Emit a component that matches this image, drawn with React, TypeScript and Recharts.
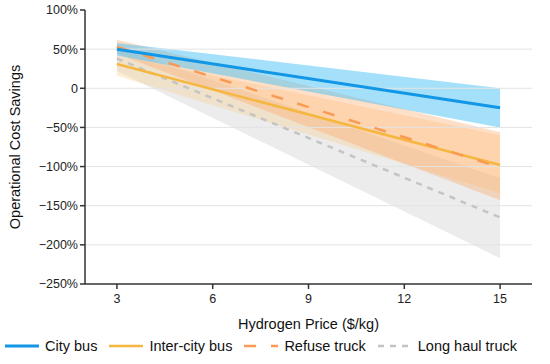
import React from "react";
import {
  ComposedChart, Line, Area, XAxis, YAxis, ReferenceLine,
} from "recharts";

// hydrogen price ($/kg) at the two ends of each fitted line
const hydrogenPrice = [3, 15];

const cityBus = [50, -25];
const cityBusLow = [42, -50];
const cityBusHigh = [58, 0];

const interCityBus = [31, -98];
const interCityBusLow = [16, -134];
const interCityBusHigh = [42, -60];

const refuseTruck = [53, -101];
const refuseTruckLow = [44, -143];
const refuseTruckHigh = [62, -56];

const longHaulTruck = [38, -165];
const longHaulTruckLow = [22, -217];
const longHaulTruckHigh = [52, -115];

const xTicks = [3, 6, 9, 12, 15];
const yTicks = [-250, -200, -150, -100, -50, 0, 50, 100];
const gridValues = [-200, -150, -100, -50, 0, 50];

const data = hydrogenPrice.map((x, i) => ({
  x,
  city: cityBus[i],
  cityBand: [cityBusLow[i], cityBusHigh[i]],
  inter: interCityBus[i],
  interBand: [interCityBusLow[i], interCityBusHigh[i]],
  refuse: refuseTruck[i],
  refuseBand: [refuseTruckLow[i], refuseTruckHigh[i]],
  haul: longHaulTruck[i],
  haulBand: [longHaulTruckLow[i], longHaulTruckHigh[i]],
}));

const legendItems = [
  { label: "City bus", color: "#1296e6", dash: undefined, width: 3 },
  { label: "Inter-city bus", color: "#f6b740", dash: undefined, width: 2.5 },
  { label: "Refuse truck", color: "#f99b55", dash: "12 15", width: 2.5 },
  { label: "Long haul truck", color: "#c4c4c4", dash: "6 6", width: 2.5 },
];

const font = "'Liberation Sans', Arial, sans-serif";

function fmt(v: number) {
  if (v === 0) return "0";
  return (v < 0 ? "\u2212" + Math.abs(v) : String(v)) + "%";
}

function LegendBox() {
  return (
    <div style={{ position: "absolute", left: 5, top: 338, display: "flex", alignItems: "center", fontFamily: font, fontSize: 14.5, color: "#111", whiteSpace: "nowrap" }}>
      {legendItems.map((it) => (
        <div key={it.label} style={{ display: "flex", alignItems: "center", marginRight: 12 }}>
          <svg width={34} height={10} style={{ marginRight: 6 }}>
            <line x1={0} y1={5} x2={34} y2={5} stroke={it.color} strokeWidth={it.width} strokeDasharray={it.dash} />
          </svg>
          <span>{it.label}</span>
        </div>
      ))}
    </div>
  );
}

export default function App() {
  return (
    <div style={{ position: "absolute", left: 0, top: 0, width: 550, height: 364, background: "#fff" }}>
      <ComposedChart width={550} height={364} data={data} margin={{ top: 10, right: 18, bottom: 30, left: 0 }}>
        {gridValues.map((v) => (
          <ReferenceLine key={v} y={v} stroke="#e3e3e3" strokeWidth={1} />
        ))}
        <XAxis
          type="number"
          dataKey="x"
          domain={[2, 16]}
          ticks={xTicks}
          height={50}
          tickSize={5}
          tickMargin={5}
          stroke="#333"
          strokeWidth={1.5}
          tick={{ fill: "#222", fontSize: 12.5, fontFamily: font }}
          label={{ value: "Hydrogen Price ($/kg)", position: "insideBottom", offset: 5, fill: "#111", fontSize: 14.5, fontFamily: font }}
        />
        <YAxis
          type="number"
          domain={[-250, 100]}
          ticks={yTicks}
          width={85}
          tickSize={5}
          tickMargin={2}
          stroke="#333"
          strokeWidth={1.5}
          tickFormatter={fmt}
          tick={{ fill: "#222", fontSize: 12.5, fontFamily: font }}
          label={{ value: "Operational Cost Savings", angle: -90, position: "insideLeft", offset: 15, fill: "#111", fontSize: 14.5, fontFamily: font, style: { textAnchor: "middle" } }}
        />
        <Area dataKey="haulBand" stroke="none" fill="#d9d9d9" fillOpacity={0.5} isAnimationActive={false} />
        <Area dataKey="interBand" stroke="none" fill="#f9c77a" fillOpacity={0.3} isAnimationActive={false} />
        <Area dataKey="refuseBand" stroke="none" fill="#fba35e" fillOpacity={0.35} isAnimationActive={false} />
        <Area dataKey="cityBand" stroke="none" fill="#4cc1f5" fillOpacity={0.5} isAnimationActive={false} />
        <Line dataKey="haul" stroke="#c4c4c4" strokeWidth={2.5} strokeDasharray="6 6" dot={false} isAnimationActive={false} />
        <Line dataKey="inter" stroke="#f6b740" strokeWidth={2.5} dot={false} isAnimationActive={false} />
        <Line dataKey="refuse" stroke="#f99b55" strokeWidth={2.5} strokeDasharray="12 15" dot={false} isAnimationActive={false} />
        <Line dataKey="city" stroke="#1296e6" strokeWidth={3} dot={false} isAnimationActive={false} />
      </ComposedChart>
      <LegendBox />
    </div>
  );
}
